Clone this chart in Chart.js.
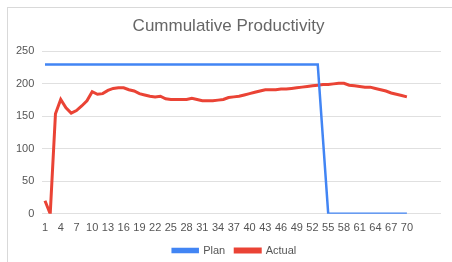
<!DOCTYPE html>
<html>
<head>
<meta charset="utf-8">
<script src="https://cdn.jsdelivr.net/npm/chart.js@4"></script>
<style>
  html, body { margin: 0; padding: 0; background: #fff; overflow: hidden; }
  #wrap { position: relative; width: 452px; height: 262px; }
  #frame { position: absolute; left: 7px; top: 7px; width: 460px; height: 270px; border-top: 1px solid #d9d9d9; border-left: 1px solid #d9d9d9; box-sizing: border-box; }
  canvas { position: absolute; left: 0; top: 0; }
</style>
</head>
<body>
<div id="wrap">
  <div id="frame"></div>
  <canvas id="c" width="452" height="262"></canvas>
</div>
<script>
const chartTitle = "Cummulative Productivity";
const days = [1,2,3,4,5,6,7,8,9,10,11,12,13,14,15,16,17,18,19,20,
  21,22,23,24,25,26,27,28,29,30,31,32,33,34,35,36,37,38,39,40,
  41,42,43,44,45,46,47,48,49,50,51,52,53,54,55,56,57,58,59,60,
  61,62,63,64,65,66,67,68,69,70];
const planValues = [230,230,230,230,230,230,230,230,230,230,
  230,230,230,230,230,230,230,230,230,230,
  230,230,230,230,230,230,230,230,230,230,
  230,230,230,230,230,230,230,230,230,230,
  230,230,230,230,230,230,230,230,230,230,
  230,230,230,115,0,0,0,0,0,0,
  0,0,0,0,0,0,0,0,0,0];
const actualValues = [20,0,154,176,163,155,159,166,174,188,
  184,185,190,193,194,194,191,189,185,183,
  181,180,181,177,176,176,176,176,178,176,
  174,174,174,175,176,179,180,181,183,185,
  187,189,191,191,191,192,192,193,194,195,
  196,197,198,199,199,200,201,201,198,197,
  196,195,195,193,191,189,186,184,182,180];
const xTickLabels = [1,4,7,10,13,16,19,22,25,28,31,34,37,40,43,46,49,52,55,58,61,64,67,70];
const yTickLabels = [0,50,100,150,200,250];
const seriesNames = ["Plan", "Actual"];

const toPts = (vals) => vals.map((v, i) => ({ x: days[i], y: v }));

const shiftBoxes = {
  id: 'shiftBoxes',
  afterLayout(chart) {
    if (chart.legend) { chart.legend.left += 10; chart.legend.right += 10; }
    if (chart.titleBlock) { chart.titleBlock.left += 4; chart.titleBlock.right += 4; }
  }
};

new Chart(document.getElementById('c'), {
  type: 'line',
  data: {
    datasets: [
      { label: seriesNames[0], data: toPts(planValues), borderColor: '#4285f4', backgroundColor: '#4285f4', borderWidth: 2.5, pointRadius: 0, tension: 0 },
      { label: seriesNames[1], data: toPts(actualValues), borderColor: '#ea4335', backgroundColor: '#ea4335', borderWidth: 3, pointRadius: 0, tension: 0 }
    ]
  },
  plugins: [shiftBoxes],
  options: {
    responsive: false,
    animation: false,
    layout: { padding: { left: 8, right: 11, top: 7, bottom: -4 } },
    plugins: {
      title: { display: true, text: chartTitle, color: '#666666', font: { family: 'Liberation Sans', size: 17, weight: 'normal' }, padding: { top: 9, bottom: 15 } },
      legend: { position: 'bottom', labels: { boxWidth: 25, boxHeight: 3, color: '#555555', font: { family: 'Liberation Sans', size: 11 }, padding: 10 } },
      tooltip: { enabled: false }
    },
    scales: {
      x: {
        type: 'linear', min: 0.5, max: 76.5,
        afterBuildTicks: (s) => { s.ticks = xTickLabels.map(v => ({ value: v })); },
        grid: { display: false },
        border: { display: false },
        ticks: { autoSkip: false, maxRotation: 0, color: '#555555', font: { family: 'Liberation Sans', size: 11 }, padding: 0 }
      },
      y: {
        min: 0, max: 250,
        afterBuildTicks: (s) => { s.ticks = yTickLabels.map(v => ({ value: v })); },
        grid: { color: '#e0e0e0', drawTicks: false },
        border: { display: false },
        ticks: { color: '#555555', font: { family: 'Liberation Sans', size: 11 }, padding: 8 }
      }
    }
  }
});
</script>
</body>
</html>
